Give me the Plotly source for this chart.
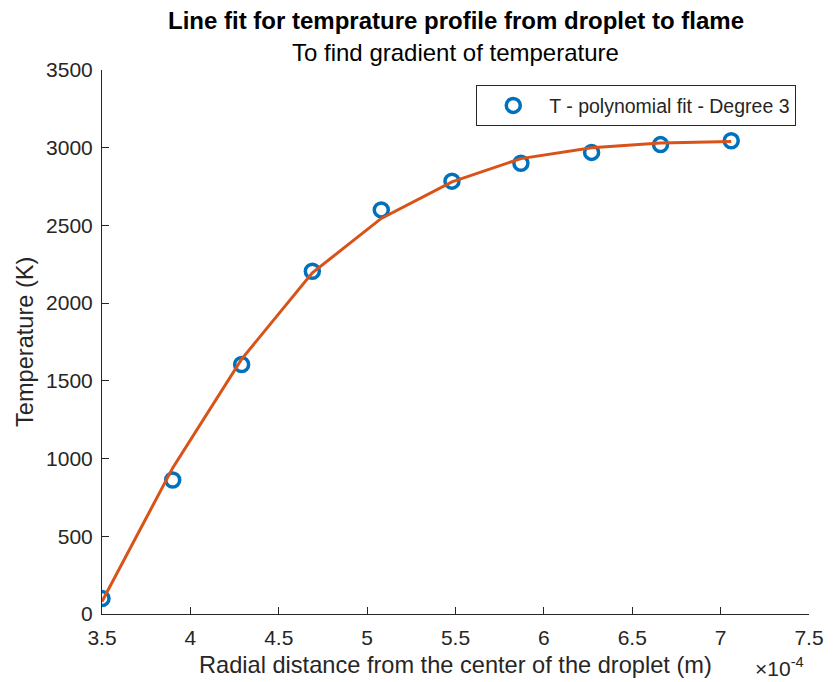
import plotly.graph_objects as go

# Data (x in units of 1e-4 m)
radial_x = [3.50, 3.90, 4.29, 4.69, 5.08, 5.48, 5.87, 6.27, 6.66, 7.06]
temp_measured = [100, 862, 1605, 2205, 2600, 2785, 2900, 2970, 3020, 3045]
temp_fit = [80, 940, 1640, 2195, 2545, 2780, 2930, 3000, 3030, 3040]

x_ticks = [3.5, 4, 4.5, 5, 5.5, 6, 6.5, 7, 7.5]
x_tick_text = ["3.5", "4", "4.5", "5", "5.5", "6", "6.5", "7", "7.5"]
y_ticks = [0, 500, 1000, 1500, 2000, 2500, 3000, 3500]

FONT = "Liberation Sans, Arial, sans-serif"
AX = "#262626"

fig = go.Figure()
fig.add_trace(go.Scatter(
    x=radial_x, y=temp_measured, mode="markers",
    name="T - polynomial fit - Degree 3",
    marker=dict(symbol="circle-open", size=14, color="#0072BD",
                line=dict(width=3.5, color="#0072BD")),
))
fig.add_trace(go.Scatter(
    x=radial_x, y=temp_fit, mode="lines", showlegend=False,
    line=dict(color="#D95319", width=3),
))

fig.update_layout(
    width=836, height=682,
    margin=dict(l=102, r=16, t=70, b=68),
    plot_bgcolor="white", paper_bgcolor="white",
    font=dict(family=FONT, size=20, color=AX),
    xaxis=dict(range=[3.5, 7.5], tickvals=x_ticks, ticktext=x_tick_text,
               showgrid=False, zeroline=False, showline=True, linecolor=AX,
               linewidth=1, ticks="inside", ticklen=7, tickcolor=AX,
               ticklabelstandoff=5,
               tickfont=dict(size=21, color=AX)),
    yaxis=dict(range=[0, 3500], tickvals=y_ticks,
               showgrid=False, zeroline=False, showline=True, linecolor=AX,
               linewidth=1, ticks="inside", ticklen=7, tickcolor=AX,
               ticklabelstandoff=4,
               tickfont=dict(size=21, color=AX)),
    legend=dict(x=0.982, y=0.972, xanchor="right", yanchor="top",
                bordercolor=AX, borderwidth=1, bgcolor="white",
                itemwidth=62,
                font=dict(size=19.5, color=AX)),
    showlegend=True,
)

fig.add_annotation(text="<b>Line fit for temprature profile from droplet to flame</b>",
                   xref="paper", yref="paper", x=0.5, y=1, yshift=50,
                   xanchor="center", yanchor="middle", showarrow=False,
                   font=dict(size=24, color="black"))
fig.add_annotation(text="To find gradient of temperature",
                   xref="paper", yref="paper", x=0.5, y=1, yshift=18,
                   xanchor="center", yanchor="middle", showarrow=False,
                   font=dict(size=24, color="black"))
fig.add_annotation(text="Radial distance from the center of the droplet (m)",
                   xref="paper", yref="paper", x=0.5, y=0, yshift=-51,
                   xanchor="center", yanchor="middle", showarrow=False,
                   font=dict(size=23.6, color=AX))
fig.add_annotation(text="Temperature (K)", textangle=-90,
                   xref="paper", yref="paper", x=0, xshift=-77, y=0.5,
                   xanchor="center", yanchor="middle", showarrow=False,
                   font=dict(size=23.6, color=AX))
fig.add_annotation(text="×10<sup>-4</sup>",
                   xref="paper", yref="paper", x=1, xshift=-30, y=0, yshift=-53,
                   xanchor="center", yanchor="middle", showarrow=False,
                   font=dict(size=21, color=AX))

fig.write_html("out.html")
